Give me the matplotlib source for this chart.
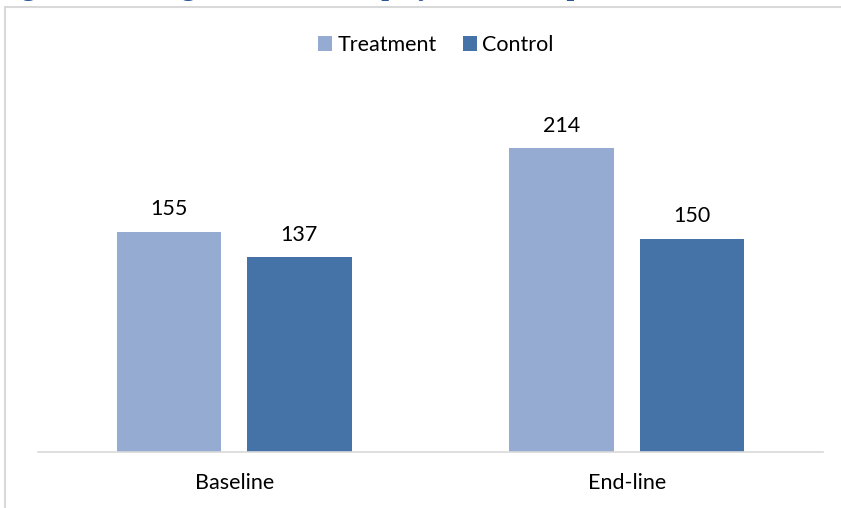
import numpy as np
import matplotlib
matplotlib.use("Agg")
from matplotlib import pyplot as plt
from matplotlib.patches import Rectangle

# data
categories = ["Baseline", "End-line"]
treatment = [155, 214]
control = [137, 150]
series_names = ["Treatment", "Control"]

COLOR_TREAT = "#95abd2"
COLOR_CTRL = "#4573a7"

plt.rcParams['font.family'] = ['Lato', 'DejaVu Sans']
FS = 15.5

fig = plt.figure(figsize=(8.41, 5.08), dpi=100)
W, H = 841, 508

# chart frame
fig.patches.append(Rectangle((5 / W, -0.05), 1, 1.05 - 7 / H, transform=fig.transFigure,
                             fill=False, edgecolor="#d9d9d9", linewidth=1.5))

# title, cut at the top like in the source
fig.text(-3 / W, 1 + 5 / H, "Figure 5: Average number of employees at enterprises",
         family="Liberation Serif", fontweight="bold", fontsize=20, color="#2f5496",
         va="baseline", ha="left")

ax = fig.add_axes([38 / W, 56 / H, (823 - 38) / W, (452 - 97) / H])
x = np.arange(len(categories))
bw = 0.266
off = 0.166
b1 = ax.bar(x - off, treatment, bw, color=COLOR_TREAT, label=series_names[0])
b2 = ax.bar(x + off, control, bw, color=COLOR_CTRL, label=series_names[1])
for bars in (b1, b2):
    for rect in bars:
        ax.annotate(f"{rect.get_height():.0f}", (rect.get_x() + rect.get_width() / 2, rect.get_height()),
                    xytext=(0, 9), textcoords="offset points", ha="center", va="bottom",
                    fontsize=FS, color="#000000")

ax.set_xlim(-0.5, 1.5)
ax.set_ylim(0, 250)
ax.set_xticks(x)
ax.set_xticklabels(categories, fontsize=FS)
ax.tick_params(axis="x", length=0, pad=15)
ax.set_yticks([])
for s in ["top", "right", "left"]:
    ax.spines[s].set_visible(False)
ax.spines["bottom"].set_color("#d9d9d9")
ax.spines["bottom"].set_linewidth(1.2)

fig.legend(handles=[b1, b2], loc="center", bbox_to_anchor=(436 / W, 1 - 45 / H), ncol=2,
           frameon=False, fontsize=FS, handlelength=0.65, handleheight=0.65,
           handletextpad=0.25, columnspacing=1.2)

fig.savefig("out.png", dpi=100)
